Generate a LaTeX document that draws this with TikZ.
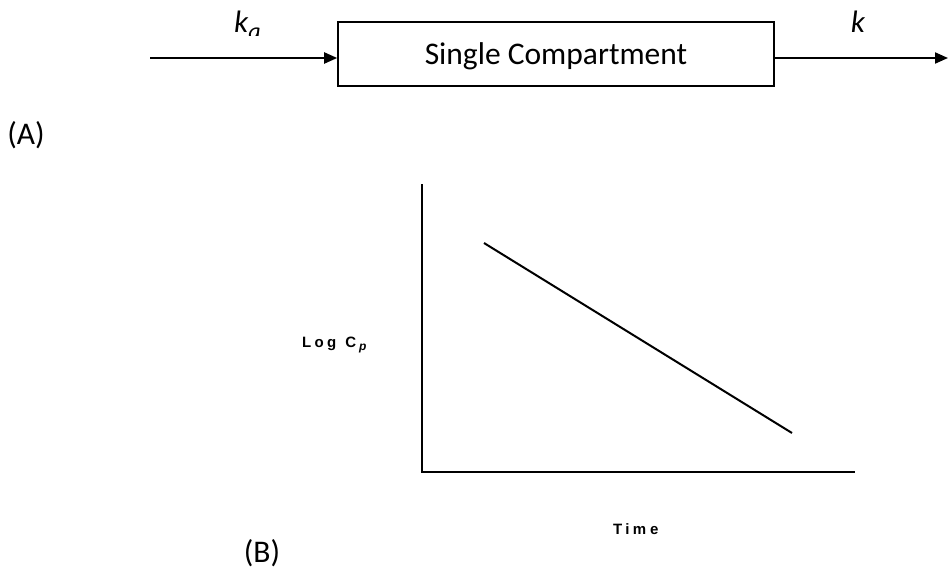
\documentclass[tikz,border=0pt]{standalone}
\usepackage{fontspec}
\setmainfont{Carlito}
\newfontfamily\arialsp[LetterSpace=22,WordSpace=1.2]{Liberation Sans}
\usetikzlibrary{arrows.meta}
\begin{document}
\begin{tikzpicture}[x=1pt,y=-1pt,
  conn/.style={line width=2pt,-{Triangle[length=13pt,width=11pt]}},
  axis/.style={line width=2.8pt},
  curve/.style={line width=2pt},
  lbl/.style={font=\fontsize{31.5}{36}\selectfont, inner sep=0pt},
  ilbl/.style={font=\itshape\fontsize{31}{36}\selectfont, inner sep=0pt},
  glbl/.style={font=\arialsp\bfseries\fontsize{15}{17}\selectfont, inner sep=0pt}]
\useasboundingbox (0,0) rectangle (948,570);
\node[draw, line width=1.6pt, minimum width=436pt, minimum height=64pt, inner sep=0pt, lbl,
  text height=21pt, text depth=0pt] (box) at (556,54) {Single Compartment};
\coordinate (in) at (150,58);
\coordinate (out) at (948,58);
\draw[conn] (in) -- (in -| box.west);
\draw[conn] (box.east |- out) -- (out);
\begin{scope}
\clip (0,0) rectangle (948,35);
\node[ilbl, anchor=base west] (ka) at (234,32) {k\textsubscript{\raisebox{-4pt}{\fontsize{24}{28}\selectfont a}}};
\end{scope}
\node[ilbl, anchor=base] (k) at (858,32) {k};
\node[lbl] (A) at (26,135) {(A)};
\coordinate (o) at (422,472);
\coordinate (ytop) at (422,184);
\coordinate (xend) at (855,472);
\draw[axis] (ytop) -- (o) -- (xend);
\coordinate (c1) at (484,243);
\coordinate (c2) at (792,433);
\draw[curve] (c1) -- (c2);
\node[glbl, anchor=base west] (logc) at (302,347) {Log C\hspace{3pt}\raisebox{-3pt}{\fontsize{12}{13}\selectfont\itshape p}};
\node[glbl, anchor=base west] (time) at (613,534) {Tim{\hspace{-5pt}} e};
\node[lbl] (B) at (262,553) {(B)};
\end{tikzpicture}
\end{document}
